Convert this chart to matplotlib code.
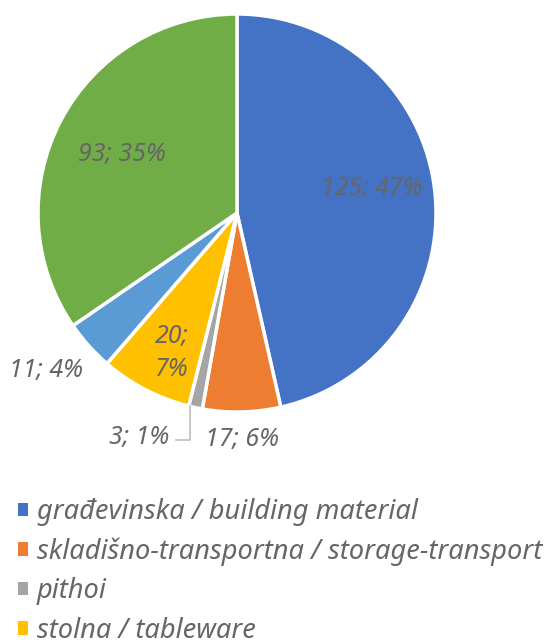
import numpy as np
import matplotlib
matplotlib.use("Agg")
import matplotlib.pyplot as plt
from matplotlib.patches import Patch

plt.rcParams['font.family'] = ['Noto Sans', 'DejaVu Sans']

values = [125, 17, 3, 20, 11, 93]
colors = ['#4472C4', '#ED7D31', '#A5A5A5', '#FFC000', '#5B9BD5', '#70AD47']
legend_labels = ['građevinska / building material',
                 'skladišno-transportna / storage-transport',
                 'pithoi',
                 'stolna / tableware']
label_texts = ['125; 47%', '17; 6%', '3; 1%', '20;\n7%', '11; 4%', '93; 35%']
label_radius = [0.68, 1.13, None, 0.76, 1.24, 0.655]
# small nudges (axes data units) of the data labels
label_nudge = [(0.0, 0.05), (0.0, -0.01), (0.0, 0.0), (0.025, -0.03), (-0.035, 0.035), (0.0, -0.01)]

txt_color = '#666666'

fig = plt.figure(figsize=(5.52, 6.40), dpi=100)
ax = fig.add_axes([38/552, (640-213-199)/640, 398/552, 398/640])
wedges, _ = ax.pie(values, colors=colors, startangle=90, counterclock=False,
                   radius=1.0,
                   wedgeprops=dict(edgecolor='white', linewidth=2.5))
ax.set_xlim(-1, 1)
ax.set_ylim(-1, 1)
ax.set_aspect('equal')
ax.axis('off')

fs = 18
for w, t, r, nd in zip(wedges, label_texts, label_radius, label_nudge):
    ang = np.deg2rad((w.theta1 + w.theta2) / 2)
    if r is None:
        # leader line label
        x0, y0 = 1.0 * np.cos(ang) - 0.03, 0.99 * np.sin(ang)
        y1 = -1.14
        ax.plot([x0, x0, x0 - 0.07], [y0, y1, y1], color='#BFBFBF', lw=1.2,
                clip_on=False)
        ax.text(x0 - 0.1, y1 + 0.01, t, ha='right', va='center', fontsize=fs,
                style='italic', color=txt_color, clip_on=False)
        continue
    ax.text(r * np.cos(ang) + nd[0], r * np.sin(ang) + nd[1], t,
            ha='center', va='center',
            fontsize=fs, style='italic', color=txt_color,
            linespacing=1.45, clip_on=False)

handles = [Patch(facecolor=c, edgecolor='none') for c in colors[:4]]
fig.legend(handles, legend_labels, loc='upper left',
           bbox_to_anchor=(7/552, 1 - 487/640), frameon=False,
           prop=dict(family=['Noto Sans', 'DejaVu Sans'], style='italic', size=19.6),
           labelcolor=txt_color, handlelength=0.37, handleheight=0.37,
           handletextpad=0.33, labelspacing=0.42, borderaxespad=0)

fig.savefig('out.png', dpi=100)
